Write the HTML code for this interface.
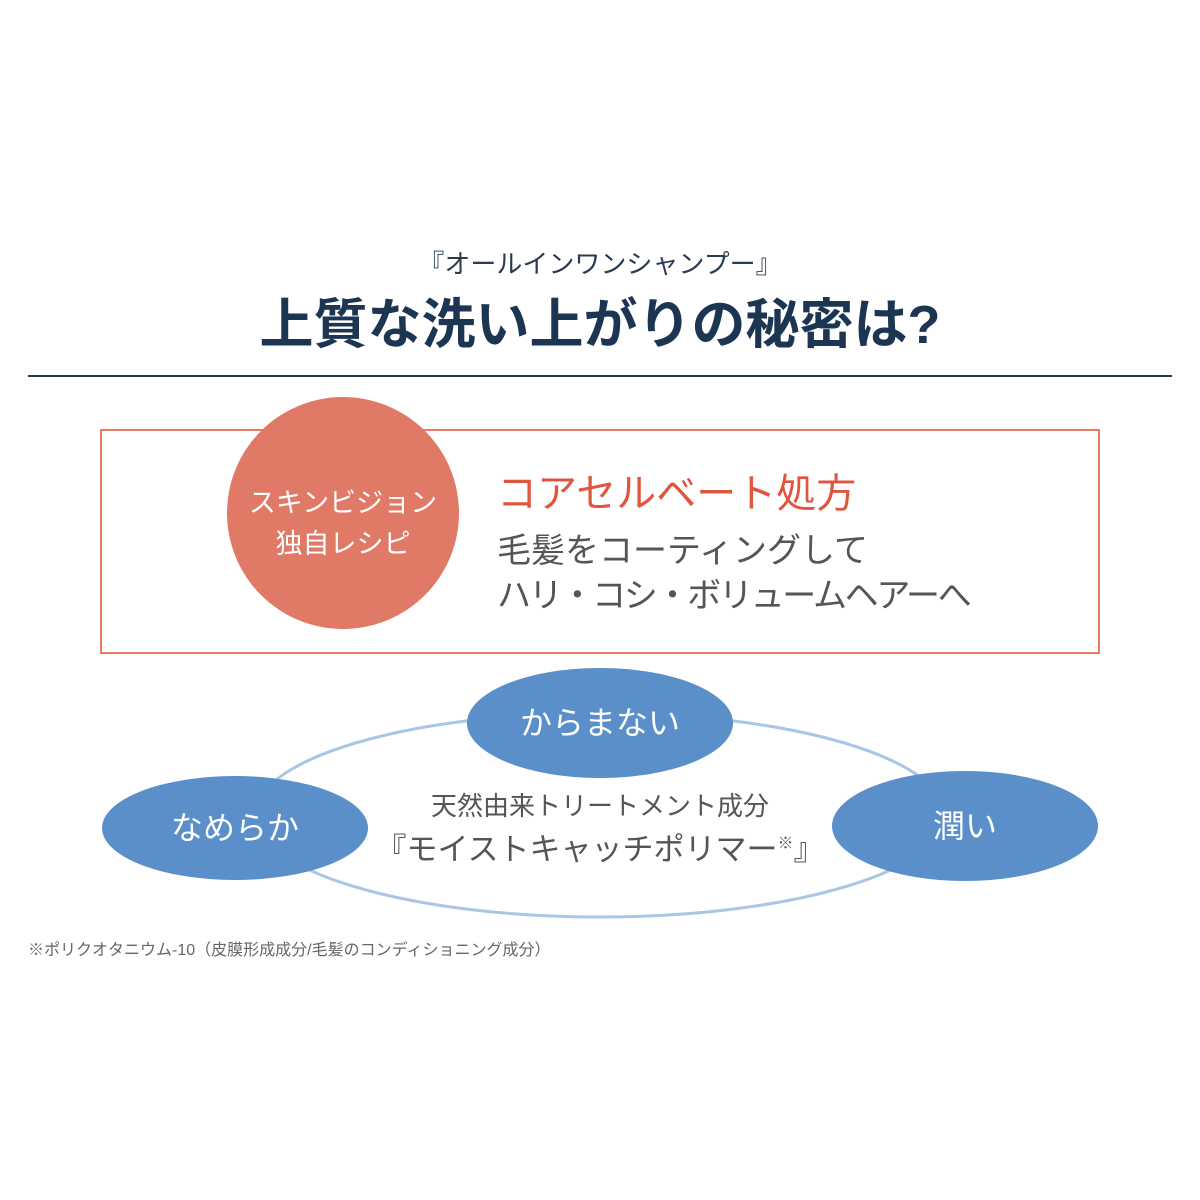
<!DOCTYPE html>
<html><head><meta charset="utf-8"><style>
body{margin:0;width:1200px;height:1200px;background:#fff;position:relative;overflow:hidden;font-family:"Liberation Sans","Noto Sans CJK JP",sans-serif}
.t{position:absolute;white-space:nowrap;line-height:1}
</style></head><body>
<div class="t" style="left:0;width:1200px;text-align:center;top:251px;font-size:26px;color:#2a3b52">『オールインワンシャンプー』</div>
<div class="t" style="left:0;width:1200px;text-align:center;top:298px;font-size:54px;font-weight:bold;color:#1b3553">上質な洗い上がりの秘密は?</div>
<div style="position:absolute;left:28px;top:375px;width:1144px;height:2px;background:#1f3a5a"></div>
<div style="position:absolute;left:100px;top:429px;width:996px;height:221px;border:2px solid #e87a66"></div>
<div style="position:absolute;left:227px;top:397px;width:232px;height:232px;border-radius:50%;background:#e07a66"></div>
<div class="t" style="left:227px;width:232px;text-align:center;top:483px;font-size:27px;color:#fff;line-height:41px;white-space:normal">スキンビジョン<br>独自レシピ</div>
<div class="t" style="left:497px;top:474px;font-size:40px;color:#e0553f">コアセルベート処方</div>
<div class="t" style="left:497px;top:534px;font-size:34px;color:#555">毛髪をコーティングして</div>
<div class="t" style="left:497px;top:579px;font-size:34px;color:#555;letter-spacing:-2.3px">ハリ・コシ・ボリュームヘアーへ</div>
<svg style="position:absolute;left:0;top:0" width="1200" height="1200">
<ellipse cx="600" cy="815" rx="345" ry="102" fill="none" stroke="#a9c6e4" stroke-width="3"/>
<ellipse cx="600" cy="723" rx="133" ry="55" fill="#5b8fc9"/>
<ellipse cx="235" cy="828" rx="133" ry="52" fill="#5b8fc9"/>
<ellipse cx="965" cy="826" rx="133" ry="55" fill="#5b8fc9"/>
</svg>
<div class="t" style="left:467px;width:266px;text-align:center;top:707px;font-size:32px;color:#fff">からまない</div>
<div class="t" style="left:102px;width:266px;text-align:center;top:812px;font-size:32px;color:#fff">なめらか</div>
<div class="t" style="left:832px;width:266px;text-align:center;top:810px;font-size:32px;color:#fff">潤い</div>
<div class="t" style="left:0;width:1200px;text-align:center;top:793px;font-size:26px;color:#555">天然由来トリートメント成分</div>
<div class="t" style="left:0;width:1200px;text-align:center;top:834px;font-size:31px;color:#555">『モイストキャッチポリマー<sup style="font-size:16px">※</sup>』</div>
<div class="t" style="left:28px;top:943px;font-size:16px;color:#666">※ポリクオタニウム-10（皮膜形成成分/毛髪のコンディショニング成分）</div>
</body></html>
